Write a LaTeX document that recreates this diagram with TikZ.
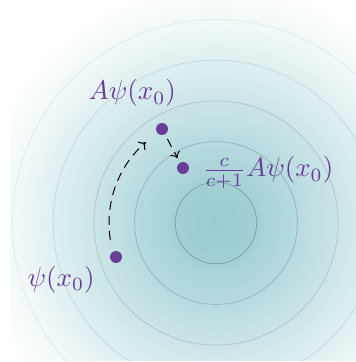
\documentclass[tikz,border=0pt]{standalone}
\usetikzlibrary{arrows.meta}
\definecolor{tealc}{RGB}{154,204,209}
\definecolor{purp}{RGB}{104,62,152}
\pgfdeclareradialshading{glow}{\pgfpoint{0bp}{0bp}}{color(0bp)=(tealc); color(3bp)=(tealc!96!white); color(12bp)=(tealc!55!white); color(20bp)=(tealc!18!white); color(25bp)=(white); color(50bp)=(white)}
\begin{document}
\begin{tikzpicture}[x=1pt,y=1pt,
  ring/.style={draw=black, line width=0.8pt},
  dot/.style={circle, fill=purp, inner sep=0pt, minimum size=12pt},
  lbl/.style={text=purp, inner sep=0pt, scale=2.7},
  flow/.style={draw=black, line width=1pt, dash pattern=on 9pt off 6pt, -{To[length=6pt,width=11pt]}}]
\useasboundingbox (0,0) rectangle (356,362);
\coordinate (c) at (216,139);
\begin{scope}
  \clip (10,1) rectangle (356,362);
  \shade[shading=glow] (c) circle (240);
\end{scope}
\foreach \r/\o in {1/0.22,2/0.17,3/0.13,4/0.09,5/0.06}
  \draw[ring, opacity=\o] (c) circle (40.7*\r);
\node[dot] (p0) at (116,105) {};
\node[dot] (p1) at (162,233) {};
\node[dot] (p2) at (183,194) {};
\node[lbl, anchor=base west] (l0) at (27,76) {$\psi(x_0)$};
\node[lbl, anchor=base west] (l1) at (88,262) {$A\psi(x_0)$};
\node[lbl, anchor=base west] (l2) at (202,185) {$\frac{c}{c+1}A\psi(x_0)$};
\path (c) ++(189:107) coordinate (a0);
\draw[flow] (a0) arc[start angle=189, end angle=131, radius=107];
\draw[flow, shorten <=5pt, shorten >=5pt] (p1) -- (p2);
\end{tikzpicture}
\end{document}
